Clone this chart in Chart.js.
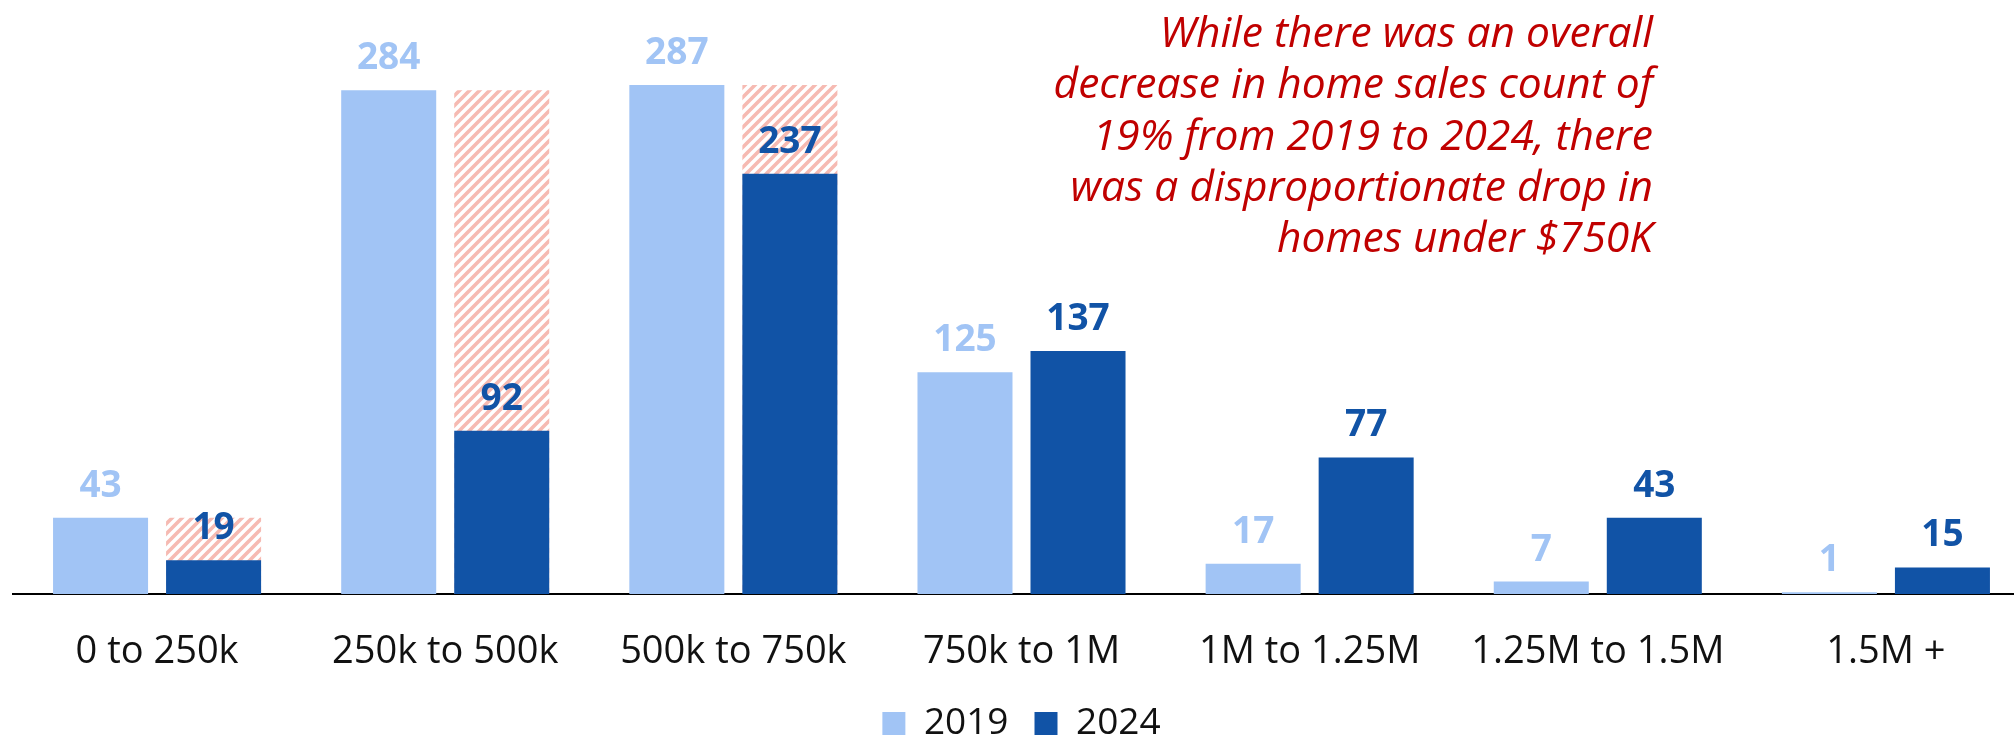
<!DOCTYPE html>
<html>
<head>
<meta charset="utf-8">
<script src="https://cdn.jsdelivr.net/npm/chart.js@4"></script>
<style>
  html, body { margin: 0; padding: 0; background: #fff; overflow: hidden; }
  #wrap { width: 2030px; height: 735px; }
</style>
</head>
<body>
<div id="wrap"><canvas id="salesChart" width="2030" height="735"></canvas></div>
<script>
// Dados
const categorias = ['0 to 250k', '250k to 500k', '500k to 750k', '750k to 1M', '1M to 1.25M', '1.25M to 1.5M', '1.5M +'];
const vendas2019 = [43, 284, 287, 125, 17, 7, 1];
const vendas2024 = [19, 92, 237, 137, 77, 43, 15];
// nível de 2019 mostrado hachurado atrás das barras de 2024 (abaixo de $750K)
const nivelAnterior = [43, 284, 287, null, null, null, null];
const notaLinhas = [
  'While there was an overall',
  'decrease in home sales count of',
  '19% from 2019 to 2024, there',
  'was a disproportionate drop in',
  'homes under $750K'
];

const azulClaro = '#A1C4F5';
const azulEscuro = '#1153A6';
const vermelho = '#C00000';

// padrão hachurado
function hachura() {
  const c = document.createElement('canvas');
  c.width = 10; c.height = 10;
  const g = c.getContext('2d');
  g.strokeStyle = 'rgb(246,186,178)';
  g.lineWidth = 3.6;
  g.beginPath();
  g.moveTo(-2, 12); g.lineTo(12, -2);
  g.moveTo(-2, 2); g.lineTo(2, -2);
  g.moveTo(8, 12); g.lineTo(12, 8);
  g.stroke();
  return g.createPattern(c, 'repeat');
}

// rótulos em cima das barras
const rotulos = {
  id: 'rotulos',
  afterDatasetsDraw(chart) {
    const ctx = chart.ctx;
    ctx.save();
    ctx.font = 'bold 37px "Open Sans"';
    ctx.textAlign = 'center';
    ctx.textBaseline = 'alphabetic';
    [0, 1].forEach(di => {
      const meta = chart.getDatasetMeta(di);
      ctx.fillStyle = di === 0 ? azulClaro : azulEscuro;
      meta.data.forEach((bar, i) => {
        ctx.fillText(chart.data.datasets[di].data[i], bar.x, bar.y - 21);
      });
    });
    ctx.restore();
  }
};

// nota em vermelho
const nota = {
  id: 'nota',
  afterDraw(chart) {
    const ctx = chart.ctx;
    ctx.save();
    ctx.font = 'italic 42.5px "Open Sans"';
    ctx.fillStyle = vermelho;
    ctx.textAlign = 'right';
    ctx.textBaseline = 'alphabetic';
    notaLinhas.forEach((t, i) => ctx.fillText(t, 1653, 47 + i * 51.3));
    ctx.restore();
  }
};

document.fonts.load('37px "Open Sans"').then(() => document.fonts.load('italic 40px "Open Sans"')).then(() => document.fonts.load('bold 37px "Open Sans"')).finally(() => {
  const ctx = document.getElementById('salesChart').getContext('2d');
  new Chart(ctx, {
    type: 'bar',
    data: {
      labels: categorias,
      datasets: [
        { label: '2019', data: vendas2019, backgroundColor: azulClaro, stack: 'a', order: 0 },
        { label: '2024', data: vendas2024, backgroundColor: azulEscuro, stack: 'b', order: 0 },
        { label: 'ghost', data: nivelAnterior, backgroundColor: hachura(), stack: 'b', order: 1 }
      ]
    },
    options: {
      responsive: false,
      animation: false,
      layout: { padding: { top: 62, left: 13, right: 0, bottom: 0 } },
      datasets: { bar: { categoryPercentage: 0.7845, barPercentage: 0.8407 } },
      scales: {
        x: {
          stacked: true,
          grid: { display: false },
          border: { display: true, color: '#000', width: 2 },
          ticks: { color: '#111', font: { family: 'Open Sans', size: 38 }, padding: 27 },
          afterFit: s => { s.height = 735 - 594 - (s.chart.legend ? s.chart.legend.height : 0); }
        },
        y: { stacked: false, display: false, min: 0, max: 300 }
      },
      plugins: {
        legend: {
          position: 'bottom',
          maxHeight: 56,
          labels: {
            filter: item => item.text !== 'ghost',
            boxWidth: 23, boxHeight: 23, padding: 26,
            color: '#111',
            font: { family: 'Open Sans', size: 37 }
          }
        },
        tooltip: { enabled: false }
      }
    },
    plugins: [rotulos, nota]
  });
});
</script>
</body>
</html>
